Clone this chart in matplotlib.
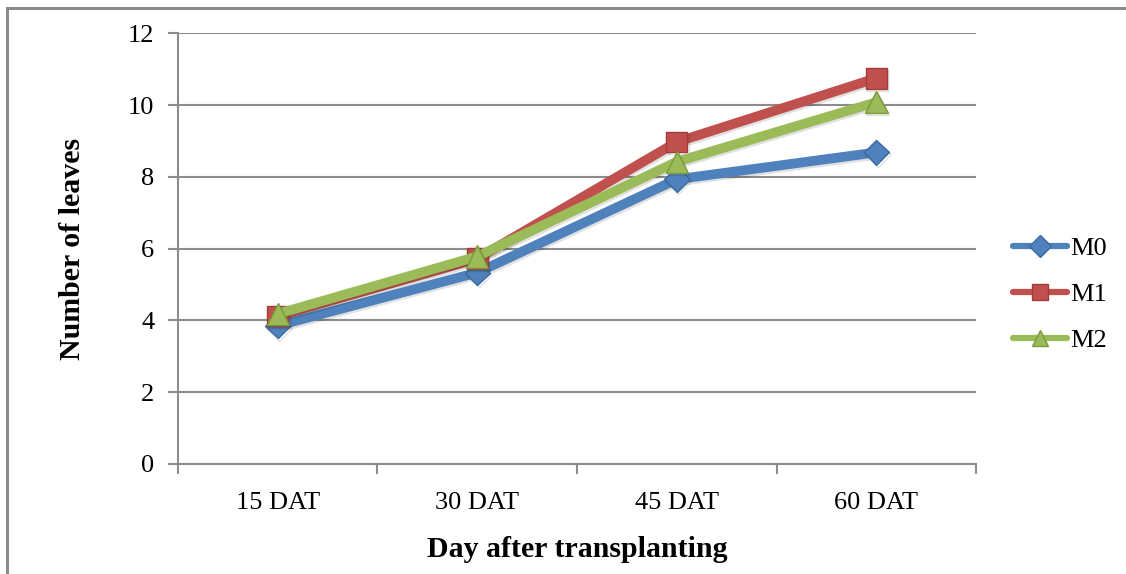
import matplotlib
matplotlib.use("Agg")
import matplotlib.pyplot as plt
import matplotlib.patheffects as pe
from matplotlib.patches import Rectangle

plt.rcParams["font.family"] = ["Liberation Serif", "DejaVu Serif"]

# ── data: number of leaves by day after transplanting ─────────────────────────
days = ["15 DAT", "30 DAT", "45 DAT", "60 DAT"]
m0 = [3.85, 5.33, 7.93, 8.68]
m1 = [4.12, 5.72, 8.97, 10.75]
m2 = [4.18, 5.78, 8.42, 10.08]

series = [
    ("M0", m0, "#4F81BD", "#3A6A9F", "D", 13),
    ("M1", m1, "#C0504D", "#A23C39", "s", 15),
    ("M2", m2, "#9BBB59", "#7A9A3C", "^", 16),
]

fig = plt.figure(figsize=(11.26, 5.74), dpi=100)
ax = fig.add_axes([0.158, 0.192, 0.709, 0.750])

# outer chart frame (only left/top edges visible)
fig.patches.append(Rectangle((7 / 1126, -0.1), 1.2, 1 - 8 / 574 + 0.1,
                             transform=fig.transFigure, fill=False,
                             edgecolor="#8c8c8c", linewidth=2.2, zorder=0))

x = list(range(len(days)))
shadow = [pe.SimpleLineShadow(offset=(1, -1.5), shadow_color="black", alpha=0.12),
          pe.Normal()]
for name, vals, col, edge, mk, ms in series:
    ax.plot(x, vals, color=col, linewidth=7, marker=mk, markersize=ms,
            markerfacecolor=col, markeredgecolor=edge, markeredgewidth=1,
            solid_capstyle="round", label=name, zorder=3,
            path_effects=shadow)

ax.set_xlim(-0.5, 3.5)
ax.set_ylim(0, 12)
ax.set_yticks(range(0, 13, 2))
ax.set_xticks(x)
ax.set_xticklabels(days)
ax.set_xticks([-0.5, 0.5, 1.5, 2.5, 3.5], minor=True)
ax.tick_params(axis="x", which="major", length=0, labelsize=19, pad=20)
ax.tick_params(axis="x", which="minor", length=7, width=1.5, color="#8c8c8c")
ax.tick_params(axis="y", length=7, width=1.5, color="#8c8c8c", labelsize=19, pad=10)

ax.grid(axis="y", color="#8c8c8c", linewidth=1.5)
ax.set_axisbelow(True)
for s in ["top", "right"]:
    ax.spines[s].set_visible(False)
for s in ["left", "bottom"]:
    ax.spines[s].set_color("#8c8c8c")
    ax.spines[s].set_linewidth(1.5)

ax.set_xlabel("Day after transplanting", fontsize=21.5, fontweight="bold", labelpad=16)
ax.set_ylabel("Number of leaves", fontsize=21.5, fontweight="bold", labelpad=30)

leg = ax.legend(loc="center left", bbox_to_anchor=(0.890, 0.487),
                bbox_transform=fig.transFigure, frameon=False, fontsize=19,
                handlelength=2.05, handletextpad=0.12, labelspacing=0.85,
                borderaxespad=0)
for h in leg.get_lines():
    h.set_linewidth(4.5)
    h.set_markersize(11)
    h.set_path_effects([])

fig.savefig("out.png", dpi=100)
